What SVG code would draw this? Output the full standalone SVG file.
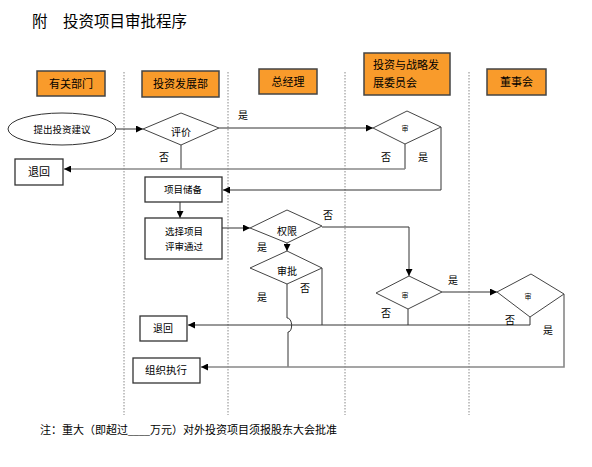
<svg xmlns="http://www.w3.org/2000/svg" width="592" height="467" viewBox="0 0 592 467">
<defs>
<marker id="arr" viewBox="0 0 10 10" refX="10" refY="5" markerWidth="7" markerHeight="7" markerUnits="userSpaceOnUse" orient="auto"><path d="M0,0 L10,5 L0,10 z" fill="#000"/></marker>
</defs>
<style>
text{font-family:"Liberation Serif","Noto Sans CJK SC",serif;fill:#000}
.hdr{fill:#F99B2B;stroke:#444;stroke-width:1.5}
.box{fill:#fff;stroke:#333;stroke-width:1.3}
.dia{fill:#fff;stroke:#444;stroke-width:1}
.lane{stroke:#888;stroke-width:1;stroke-dasharray:1.5 1.5;fill:none}
.ln{stroke:#333;stroke-width:1;fill:none}
.gl{stroke:#888;stroke-width:1.6;fill:none}
.lbl{font-size:10px}
.t{text-anchor:middle}
</style>
<rect width="592" height="467" fill="#fff"/>
<text x="32" y="27" style="font-size:15.5px">附　投资项目审批程序</text>

<g id="lanes">
<line class="lane" x1="124" y1="72" x2="124" y2="415"/>
<line class="lane" x1="228" y1="72" x2="228" y2="415"/>
<line class="lane" x1="345" y1="72" x2="345" y2="415"/>
<line class="lane" x1="469" y1="72" x2="469" y2="415"/>
</g>

<g id="h1"><rect class="hdr" x="37" y="71" width="68" height="25"/><text class="t" x="71" y="88" style="font-size:11px">有关部门</text></g>
<g id="h2"><rect class="hdr" x="142" y="71" width="77" height="26"/><text class="t" x="180.5" y="88" style="font-size:11px">投资发展部</text></g>
<g id="h3"><rect class="hdr" x="259" y="69" width="58" height="25"/><text class="t" x="288" y="86" style="font-size:11px">总经理</text></g>
<g id="h4"><rect class="hdr" x="364" y="53" width="86" height="42"/><text x="373" y="69" style="font-size:11px">投资与战略发</text><text x="373" y="87" style="font-size:11px">展委员会</text></g>
<g id="h5"><rect class="hdr" x="487" y="69" width="59" height="26"/><text class="t" x="516.5" y="86" style="font-size:11px">董事会</text></g>

<g id="connectors">
<line class="ln" x1="115" y1="129" x2="143" y2="129" marker-end="url(#arr)"/>
<line class="ln" x1="219" y1="128" x2="373" y2="128" marker-end="url(#arr)"/>
<line class="ln" x1="181" y1="145" x2="181" y2="169"/>
<polyline class="ln" points="405,144 405,169"/>
<line class="gl" x1="405" y1="169" x2="64" y2="169" marker-end="url(#arr)"/>
<polyline class="ln" points="441,127 441,190 223,190" marker-end="url(#arr)"/>
<line class="ln" x1="180" y1="202" x2="180" y2="218" marker-end="url(#arr)"/>
<line class="ln" x1="222" y1="228" x2="250" y2="228" marker-end="url(#arr)"/>
<polyline class="ln" points="322,227 409,227 409,276" marker-end="url(#arr)"/>
<line class="ln" x1="287" y1="243" x2="287" y2="251" marker-end="url(#arr)"/>
<polyline class="ln" points="322,268 322,325"/>
<path class="ln" d="M287,284 V318 C293,318 293,332 288,332 V367"/>
<polyline class="ln" points="408,309 408,325"/>
<polyline class="ln" points="530,317 530,325 188,325" marker-end="url(#arr)"/>
<line class="ln" x1="442" y1="292" x2="497" y2="292" marker-end="url(#arr)"/>
<polyline class="gl" points="564,294 564,367 201,367" marker-end="url(#arr)"/>
</g>

<g id="n_start"><ellipse cx="62" cy="129" rx="54" ry="16" fill="#fff" stroke="#333"/><text class="t" x="62" y="133" style="font-size:9.5px">提出投资建议</text></g>
<g id="n_eval"><polygon class="dia" points="143,129 181,113 219,128 181,145"/><text class="t" x="181" y="136" style="font-size:10px">评价</text></g>
<g id="n_back1"><rect class="box" x="15" y="159" width="48" height="26"/><text class="t" x="39" y="176" style="font-size:11px">退回</text></g>
<g id="n_c1"><polygon class="dia" points="373,128 407,111 441,127 405,144"/><text class="t" x="405" y="131" style="font-size:7px">审</text></g>
<g id="n_store"><rect class="box" x="145" y="177" width="77" height="25"/><text class="t" x="183" y="193" style="font-size:9.5px">项目储备</text></g>
<g id="n_select"><rect class="box" x="145" y="218" width="77" height="41"/><text x="165" y="235" style="font-size:9.5px">选择项目</text><text x="165" y="250" style="font-size:9.5px">评审通过</text></g>
<g id="n_auth"><polygon class="dia" points="250,228 287,210 322,226 287,243"/><text class="t" x="287" y="235" style="font-size:10px">权限</text></g>
<g id="n_approve"><polygon class="dia" points="250,268 287,251 322,268 287,284"/><text class="t" x="287" y="275" style="font-size:10px">审批</text></g>
<g id="n_c2"><polygon class="dia" points="376,293 409,276 442,292 408,309"/><text class="t" x="405" y="298" style="font-size:7px">审</text></g>
<g id="n_board"><polygon class="dia" points="497,292 531,274 564,294 530,317"/><text class="t" x="528" y="299" style="font-size:7px">审</text></g>
<g id="n_back2"><rect class="box" x="140" y="316" width="47" height="25"/><text class="t" x="163" y="332" style="font-size:10px">退回</text></g>
<g id="n_exec"><rect class="box" x="133" y="358" width="67" height="25"/><text class="t" x="166" y="374" style="font-size:10.5px">组织执行</text></g>

<g id="labels">
<text class="lbl" x="238" y="119">是</text>
<text class="lbl" x="159" y="161">否</text>
<text class="lbl" x="381" y="161">否</text>
<text class="lbl" x="418" y="161">是</text>
<text class="lbl" x="323" y="219">否</text>
<text class="lbl" x="257" y="251">是</text>
<text class="lbl" x="300" y="292">否</text>
<text class="lbl" x="257" y="301">是</text>
<text class="lbl" x="448" y="284">是</text>
<text class="lbl" x="381" y="317">否</text>
<text class="lbl" x="505" y="324">否</text>
<text class="lbl" x="543" y="334">是</text>
</g>

<text x="40" y="434" style="font-size:11px">注：重大（即超过____万元）对外投资项目须报股东大会批准</text>
</svg>
